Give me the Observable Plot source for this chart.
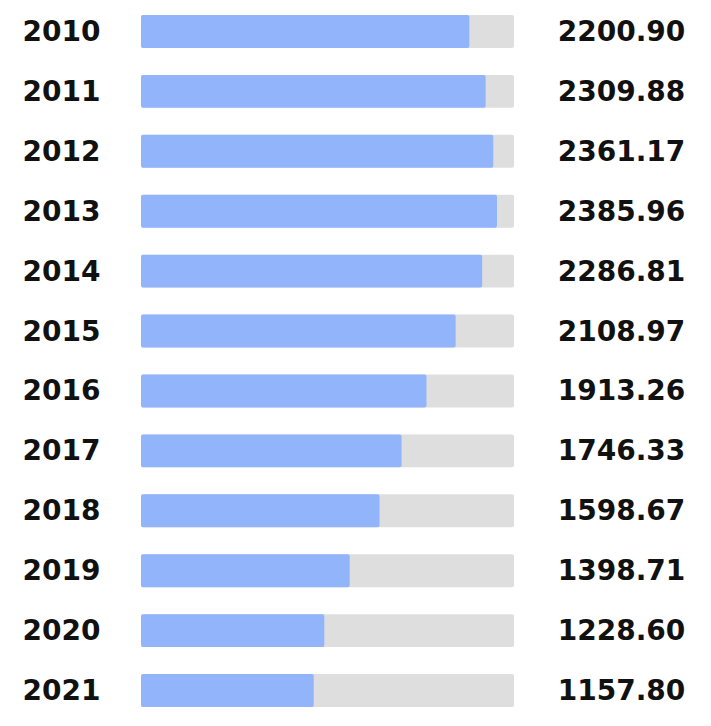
<!DOCTYPE html>
<html>
<head>
<meta charset="utf-8">
<script src="https://cdn.jsdelivr.net/npm/d3@7"></script>
<script src="https://cdn.jsdelivr.net/npm/@observablehq/plot@0.6"></script>
<style>
  html, body { margin: 0; padding: 0; background: #fff; }
  #chart svg { display: block; }
</style>
</head>
<body>
<div id="chart"></div>
<script>
const years = ["2010","2011","2012","2013","2014","2015","2016","2017","2018","2019","2020","2021"];
const values = [2200.90, 2309.88, 2361.17, 2385.96, 2286.81, 2108.97, 1913.26, 1746.33, 1598.67, 1398.71, 1228.60, 1157.80];
const trackMax = 2500;

const data = years.map((y, i) => ({year: y, value: values[i]}));

const chart = Plot.plot({
  width: 711,
  height: 726,
  marginLeft: 141,
  marginRight: 197,
  marginTop: 15,
  marginBottom: 19,
  style: {fontFamily: "'DejaVu Sans', sans-serif", background: "#fff"},
  x: {domain: [0, trackMax], axis: null},
  y: {domain: years, paddingInner: 0.45, paddingOuter: 0, round: false, label: null},
  marks: [
    Plot.barX(data, {y: "year", x1: 0, x2: () => trackMax, fill: "#dedede", rx: 2}),
    Plot.barX(data, {y: "year", x1: 0, x2: "value", fill: "#92b4fb", rx: 2}),
    Plot.axisY({tickSize: 0, tickPadding: 80, textAnchor: "middle", fontSize: 28, fontWeight: "bold", fill: "#111", label: null}),
    Plot.text(data, {y: "year", frameAnchor: "right", dx: 107, text: d => d.value.toFixed(2), textAnchor: "middle", fontSize: 28, fontWeight: "bold", fill: "#111"})
  ]
});
document.getElementById("chart").appendChild(chart);
</script>
</body>
</html>
